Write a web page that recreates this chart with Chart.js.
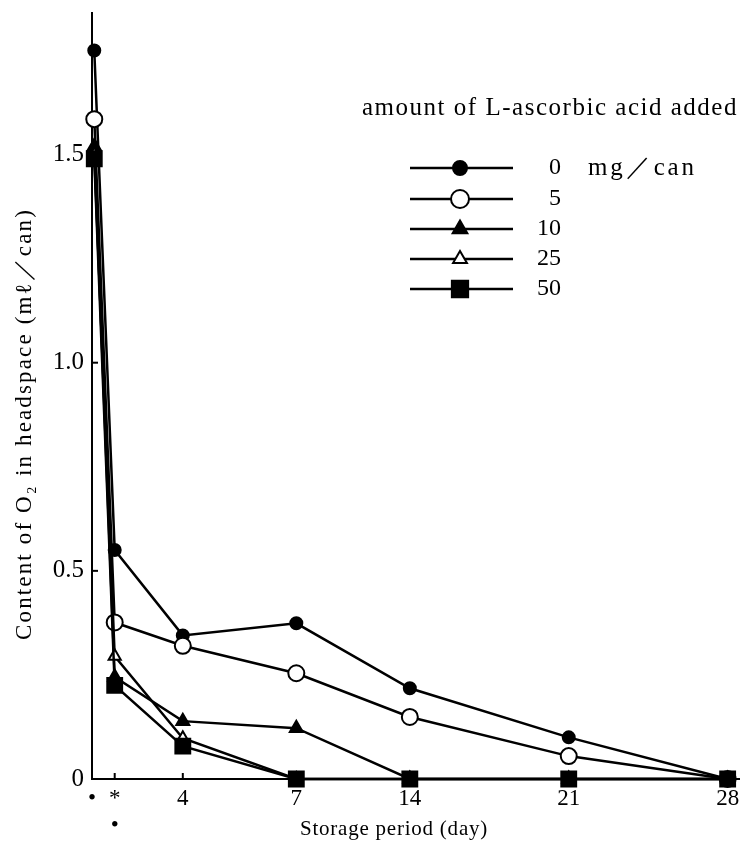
<!DOCTYPE html>
<html>
<head>
<meta charset="utf-8">
<script src="https://cdn.jsdelivr.net/npm/chart.js@4/dist/chart.umd.min.js"></script>
<style>
  html, body { margin: 0; padding: 0; background: #fff; }
  #o2Chart { display: block; }
</style>
</head>
<body>
<canvas id="o2Chart" width="742" height="844"></canvas>
<script>
// sampling points on the storage axis (the original axis is not to scale)
var xPos = [0.1, 1, 4, 9, 14, 21, 28];
var tickPos = [0, 1, 4, 9, 14, 21, 28];
var tickLabels = ['•', ['*', '•'], '4', '7', '14', '21', '28'];
var yTicks = [0, 0.5, 1.0, 1.5];

// O2 content (ml/can) per amount of L-ascorbic acid added
var seriesNames = ['0', '5', '10', '25', '50'];
var o2_0mg = [1.75, 0.55, 0.345, 0.374, 0.218, 0.10, 0];
var o2_5mg = [1.585, 0.376, 0.32, 0.254, 0.149, 0.055, 0];
var o2_10mg = [1.52, 0.245, 0.139, 0.122, 0, 0, 0];
var o2_25mg = [1.50, 0.295, 0.098, 0, 0, 0, 0];
var o2_50mg = [1.49, 0.225, 0.079, 0, 0, 0, 0];

var serif = '"Liberation Serif", "DejaVu Serif", serif';

function toPoints(values) {
    return values.map(function(v, i) {
        return { x: xPos[i], y: v };
    });
}

function makeSet(label, values, style, radius, filled, order) {
    return {
        label: label,
        data: toPoints(values),
        borderColor: '#000',
        borderWidth: 2.5,
        pointStyle: style,
        pointRadius: radius,
        pointBorderWidth: 2,
        pointBorderColor: '#000',
        pointBackgroundColor: filled ? '#000' : '#fff',
        tension: 0,
        fill: false,
        clip: false,
        order: order
    };
}

// later series sit on top, like the squares in the original
var datasets = [
    makeSet(seriesNames[0], o2_0mg, 'circle', 6, true, 4),
    makeSet(seriesNames[1], o2_5mg, 'circle', 8, false, 3),
    makeSet(seriesNames[2], o2_10mg, 'triangle', 7.5, true, 2),
    makeSet(seriesNames[3], o2_25mg, 'triangle', 7, false, 1),
    makeSet(seriesNames[4], o2_50mg, 'rect', 10.5, true, 0)
];

// spread text over a given width (the scan uses wide type)
function wideText(ctx, text, x, y, width) {
    ctx.letterSpacing = '0px';
    var w = ctx.measureText(text).width;
    ctx.letterSpacing = Math.max(0, (width - w) / text.length) + 'px';
    ctx.fillText(text, x, y);
    ctx.letterSpacing = '0px';
}

// inward tick marks, titles and the line/marker legend
var decorPlugin = {
    id: 'decor',
    afterDraw: function(chart) {
        var ctx = chart.ctx;
        var xs = chart.scales.x, ys = chart.scales.y;
        var area = chart.chartArea;
        ctx.save();
        ctx.strokeStyle = '#000';
        ctx.lineWidth = 2;
        tickPos.forEach(function(t) {
            var px = xs.getPixelForValue(t);
            ctx.beginPath();
            ctx.moveTo(px, area.bottom);
            ctx.lineTo(px, area.bottom - 6);
            ctx.stroke();
        });
        yTicks.forEach(function(t) {
            var py = ys.getPixelForValue(t);
            ctx.beginPath();
            ctx.moveTo(area.left, py);
            ctx.lineTo(area.left + 6, py);
            ctx.stroke();
        });

        ctx.fillStyle = '#000';
        ctx.textBaseline = 'middle';
        ctx.textAlign = 'left';

        // x title
        ctx.font = '21px ' + serif;
        wideText(ctx, 'Storage period (day)', 300, 829, 188);

        // y title
        ctx.save();
        ctx.translate(25, 640);
        ctx.rotate(-Math.PI / 2);
        ctx.font = '23px ' + serif;
        wideText(ctx, 'Content of O₂ in headspace (mℓ／can)', 0, 0, 432);
        ctx.restore();

        // legend
        ctx.font = '25px ' + serif;
        wideText(ctx, 'amount of L-ascorbic acid added', 362, 108, 376);
        var rowY = [168, 199, 229, 259, 289];
        chart.data.datasets.forEach(function(ds, i) {
            var y = rowY[i];
            ctx.lineWidth = 2.5;
            ctx.strokeStyle = '#000';
            ctx.beginPath();
            ctx.moveTo(410, y);
            ctx.lineTo(513, y);
            ctx.stroke();
            ctx.lineWidth = 2;
            ctx.fillStyle = ds.pointBackgroundColor;
            Chart.helpers.drawPoint(ctx, {
                pointStyle: ds.pointStyle,
                radius: ds.pointRadius + 1,
                rotation: 0,
                borderWidth: 2
            }, 460, y);
            ctx.fillStyle = '#000';
            ctx.textAlign = 'right';
            ctx.font = '24px ' + serif;
            ctx.fillText(ds.label, 561, y);
        });
        ctx.textAlign = 'left';
        ctx.font = '25px ' + serif;
        wideText(ctx, 'mg／can', 588, rowY[0], 109);
        ctx.restore();
    }
};

new Chart(document.getElementById('o2Chart').getContext('2d'), {
    type: 'line',
    data: { datasets: datasets },
    plugins: [decorPlugin],
    options: {
        responsive: false,
        animation: false,
        devicePixelRatio: 1,
        layout: { autoPadding: false, padding: { top: 13, right: 3, left: 0, bottom: 0 } },
        plugins: {
            legend: { display: false },
            tooltip: { enabled: false }
        },
        scales: {
            x: {
                type: 'linear',
                min: 0,
                max: 28.5,
                afterBuildTicks: function(scale) {
                    scale.ticks = tickPos.map(function(v) { return { value: v }; });
                },
                afterFit: function(scale) {
                    scale.height = 65;
                    scale.paddingLeft = 0;
                    scale.paddingRight = 0;
                },
                ticks: {
                    autoSkip: false,
                    maxRotation: 0,
                    padding: 6,
                    color: '#000',
                    font: { family: serif, size: 23 },
                    callback: function(value) {
                        return tickLabels[tickPos.indexOf(value)];
                    }
                },
                grid: { drawOnChartArea: false, drawTicks: false },
                border: { color: '#000', width: 2 }
            },
            y: {
                min: 0,
                max: 1.84,
                afterBuildTicks: function(scale) {
                    scale.ticks = yTicks.map(function(v) { return { value: v }; });
                },
                afterFit: function(scale) {
                    scale.width = 92;
                    scale.paddingTop = 0;
                    scale.paddingBottom = 0;
                },
                ticks: {
                    padding: 8,
                    color: '#000',
                    font: { family: serif, size: 25 },
                    callback: function(value) {
                        return value === 0 ? '0' : value.toFixed(1);
                    }
                },
                grid: { drawOnChartArea: false, drawTicks: false },
                border: { color: '#000', width: 2 }
            }
        }
    }
});
</script>
</body>
</html>
